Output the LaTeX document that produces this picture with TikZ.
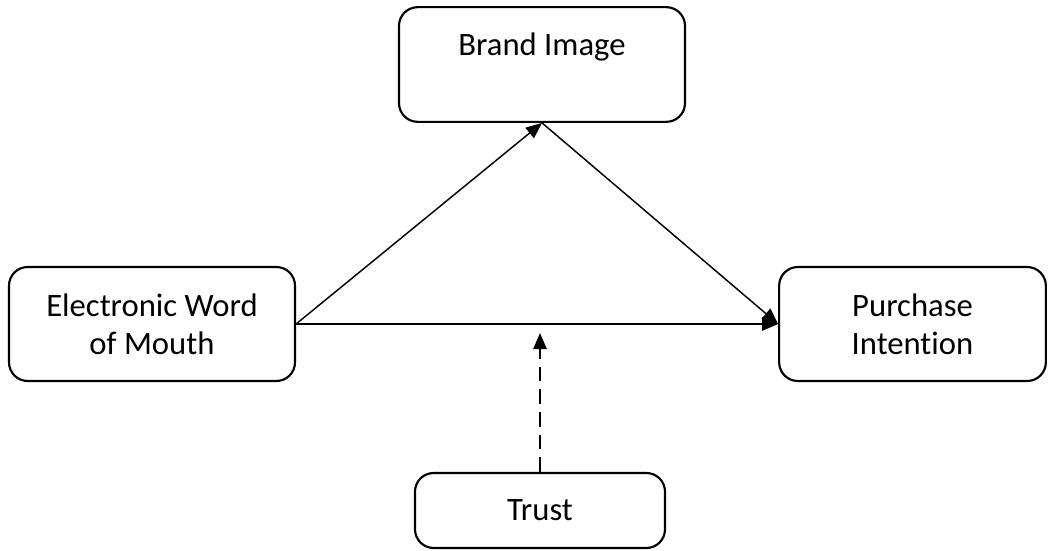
\documentclass[tikz,border=0pt]{standalone}
\usepackage{fontspec}
\setmainfont{Carlito}[Ligatures=NoCommon]
\usetikzlibrary{arrows.meta}
\begin{document}
\begin{tikzpicture}[x=0.75pt,y=-0.75pt,
  box/.style={draw=black,line width=1.6pt,rounded corners=14pt,fill=white,
    font=\fontsize{24.5}{28.5}\selectfont,align=center,inner sep=0pt},
  conn/.style={line width=1.1pt,-{Triangle[length=12pt,width=10pt]}}]
\useasboundingbox (0,0) rectangle (1048,550);
\node[box,minimum width=214.5pt,text height=36pt,text depth=50pt] (bi) at (542,64.5) {Brand Image};
\node[box,minimum width=214.5pt,minimum height=85.5pt] (ew) at (152,324) {Electronic Word\\of Mouth};
\node[box,minimum width=200pt,minimum height=85.5pt] (pi) at (912.5,324) {Purchase\\Intention};
\node[box,minimum width=187.5pt,minimum height=56.25pt] (tr) at (540,510.5) {Trust};
\coordinate (mod) at (540,333);
\draw[conn] (ew.east) -- (bi.south);
\draw[conn] (bi.south) -- (pi.west);
\draw[conn] (ew.east) -- (pi.west);
\draw[conn,dash pattern=on 11pt off 6pt] (tr.north) -- (mod);
\end{tikzpicture}
\end{document}
